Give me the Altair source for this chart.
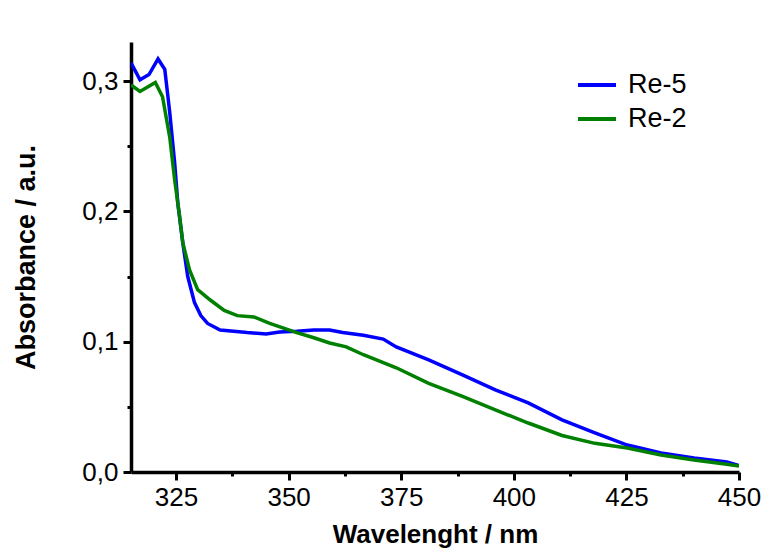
import altair as alt
import pandas as pd

# Re-5 (blue)
re5_wl = [315, 317, 319, 321, 322.5, 323.6, 324.7, 325.4, 326.5, 327.6, 329.1, 330.5, 332, 334.8,
          340.8, 345, 348, 351.8, 355.6, 359.1, 362, 366.6, 371, 373.9, 381.1, 388.6, 395.9,
          403.2, 410.7, 418, 425.2, 432.7, 440, 447.3, 450]
re5_abs = [0.314, 0.301, 0.305, 0.317, 0.309, 0.276, 0.237, 0.206, 0.176, 0.150, 0.130, 0.120, 0.114, 0.109,
           0.107, 0.106, 0.1075, 0.108, 0.109, 0.109, 0.107, 0.105, 0.102, 0.096, 0.086, 0.0745, 0.063,
           0.053, 0.040, 0.030, 0.0207, 0.0146, 0.0107, 0.0077, 0.005]

# Re-2 (green)
re2_wl = [315, 317, 320.4, 322, 323.6, 324.7, 325.8, 326.5, 328, 329.8, 332.6, 335.7, 338.6, 342.3,
          345.8, 351.8, 355.6, 359.1, 362.8, 366.6, 373.9, 381.1, 388.6, 395.9, 403.2, 410.7, 418,
          425.2, 432.7, 440, 447.3, 450]
re2_abs = [0.297, 0.292, 0.299, 0.288, 0.257, 0.224, 0.196, 0.176, 0.155, 0.140, 0.132, 0.124, 0.120, 0.119,
           0.114, 0.107, 0.103, 0.099, 0.096, 0.090, 0.080, 0.068, 0.058, 0.0476, 0.0376, 0.028, 0.022,
           0.0184, 0.013, 0.0092, 0.006, 0.0046]

series_names = ["Re-5", "Re-2"]
series_colors = ["#0000FF", "#008000"]

x_ticks = [325, 337.5, 350, 362.5, 375, 387.5, 400, 412.5, 425, 437.5, 450]
y_ticks = [0.0, 0.05, 0.1, 0.15, 0.2, 0.25, 0.3]

df = pd.concat([
    pd.DataFrame({"wl": re5_wl, "abs": re5_abs, "series": "Re-5", "order": range(len(re5_wl))}),
    pd.DataFrame({"wl": re2_wl, "abs": re2_abs, "series": "Re-2", "order": range(len(re2_wl))}),
])

FONT = "Liberation Sans"

x_axis = alt.Axis(
    values=x_ticks,
    labelExpr="datum.value % 25 === 0 ? datum.label : ''",
    grid=False,
    domainColor="black", domainWidth=3.5,
    tickColor="black", tickWidth=3,
    tickSize={"condition": {"test": "datum.value % 25 === 0", "value": 8}, "value": 4},
    labelFont=FONT, labelFontSize=26, labelColor="black", labelPadding=4,
    title="Wavelenght / nm", titleFont=FONT, titleFontSize=26, titleFontWeight="bold",
    titleColor="black", titlePadding=11,
    labelFlush=False,
)

y_axis = alt.Axis(
    values=y_ticks,
    labelExpr="(round(datum.value*100) % 10 === 0) ? replace(format(datum.value, '.1f'), '.', ',') : ''",
    grid=False,
    domainColor="black", domainWidth=3.5,
    tickColor="black", tickWidth=3,
    tickSize={"condition": {"test": "round(datum.value*100) % 10 === 0", "value": 8}, "value": 4},
    labelFont=FONT, labelFontSize=26, labelColor="black", labelPadding=5,
    title="Absorbance / a.u.", titleFont=FONT, titleFontSize=27, titleFontWeight="bold",
    titleColor="black", titlePadding=41,
)

chart = alt.Chart(df).mark_line(strokeWidth=3.5, clip=True).encode(
    x=alt.X("wl:Q", scale=alt.Scale(domain=[315, 450], nice=False, zero=False), axis=x_axis),
    y=alt.Y("abs:Q", scale=alt.Scale(domain=[0, 0.33], nice=False), axis=y_axis),
    color=alt.Color(
        "series:N",
        scale=alt.Scale(domain=series_names, range=series_colors),
        legend=alt.Legend(
            title=None, orient="none", legendX=445, legendY=22,
            symbolType="stroke", symbolSize=1444, symbolStrokeWidth=4,
            labelFont=FONT, labelFontSize=27, labelColor="black", labelOffset=10,
            rowPadding=0, padding=0,
        ),
    ),
    order="order:Q",
).properties(
    width=608, height=430,
    padding={"left": 123, "top": 34, "right": 23, "bottom": 78},
    autosize=alt.AutoSizeParams(type="none"),
).configure_view(stroke=None)

chart.save("out.html", embed_options={"renderer": "svg", "actions": False})
